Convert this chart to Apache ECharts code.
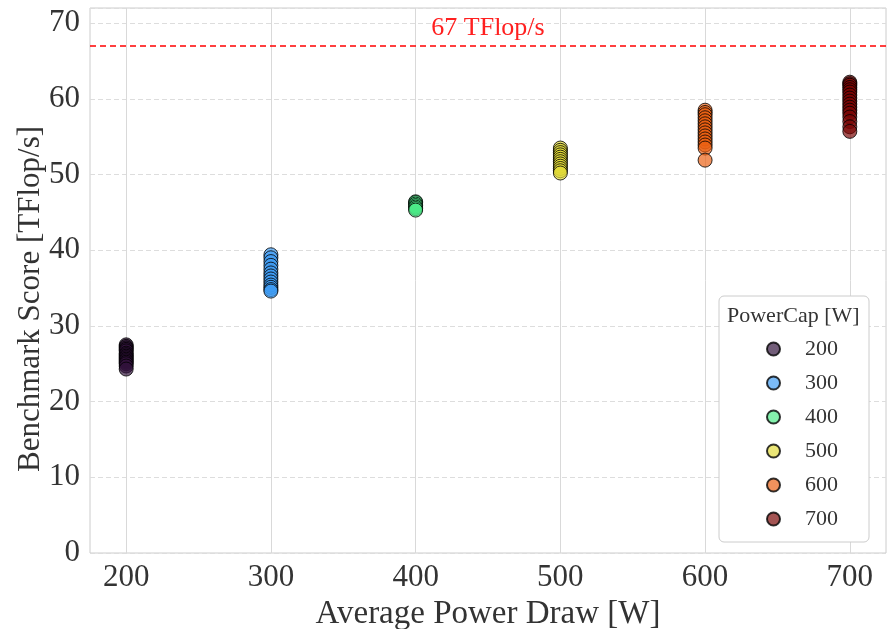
<!DOCTYPE html>
<html>
<head>
<meta charset="utf-8">
<script src="https://cdn.jsdelivr.net/npm/echarts@6/dist/echarts.min.js"></script>
<style>html,body{margin:0;padding:0;background:#fff}#c{width:887px;height:629px}</style>
</head>
<body>
<div id="c"></div>
<script>
const caps = ['200','300','400','500','600','700'];
const xTicks = [200,300,400,500,600,700];
const refValue = 67;
const refLabel = '67 TFlop/s';
const yTitle = 'Benchmark Score [TFlop/s]';
const xTitle = 'Average Power Draw [W]';
const vals200 = [27.5,27.3,27.1,26.9,26.7,26.4,26.2,26.0,25.8,25.6,25.4,25.2,25.0,24.7,24.3];
const vals300 = [39.4,39.0,38.5,38.0,37.5,37.0,36.6,36.2,35.8,35.4,35.1,34.8,34.6];
const vals400 = [46.4,46.3,46.1,45.9,45.7,45.5,45.3];
const vals500 = [53.5,53.2,52.9,52.6,52.3,52.0,51.7,51.4,51.1,50.8,50.5,50.2];
const vals600 = [58.5,58.2,57.9,57.5,57.1,56.7,56.3,55.9,55.5,55.1,54.7,54.3,53.9,53.5,51.9];
const vals700 = [62.2,62.0,61.8,61.5,61.2,60.9,60.5,60.1,59.7,59.3,58.9,58.5,58.1,57.6,57.0,56.3,55.7];
const groups = [vals200, vals300, vals400, vals500, vals600, vals700];
const colors = ['rgba(48,18,59,0.85)','rgba(61,156,243,0.85)','rgba(75,235,135,0.85)','rgba(226,219,55,0.85)','rgba(235,95,18,0.85)','rgba(122,4,3,0.85)'];

const FONT = '"Liberation Serif", "DejaVu Serif", serif';
const series = caps.map((c, i) => ({
  name: c,
  type: 'scatter',
  symbol: 'circle',
  symbolSize: 14,
  data: groups[i].map(v => [Number(c), v]),
  itemStyle: { color: colors[i], borderColor: '#000', borderWidth: 1 },
  emphasis: { disabled: true },
  z: 3
}));
series.push({
  name: 'ref',
  type: 'line',
  data: [],
  markLine: {
    silent: true,
    symbol: ['none','none'],
    lineStyle: { color: '#ff0000', type: [6,4], width: 1.6 },
    label: { show: true, position: 'insideMiddleTop', formatter: refLabel, color: '#ff2020', fontFamily: FONT, fontSize: 26, distance: 5 },
    data: [{ yAxis: refValue }]
  }
});

const chart = echarts.init(document.getElementById('c'), null, { renderer: 'canvas' });
chart.setOption({
  animation: false,
  backgroundColor: '#fff',
  grid: { left: 90, right: 1, top: 8, bottom: 76, outerBoundsMode: 'none', containLabel: false, show: true, borderColor: '#cccccc', borderWidth: 1, backgroundColor: 'transparent' },
  xAxis: {
    type: 'value', min: 175, max: 725,
    name: xTitle, nameLocation: 'middle', nameGap: 42,
    nameTextStyle: { fontFamily: FONT, fontSize: 33, color: '#333' },
    axisLine: { show: false }, axisTick: { show: false, customValues: xTicks },
    axisLabel: { customValues: xTicks, fontFamily: FONT, fontSize: 31, color: '#333', margin: 9 },
    splitLine: { show: true, lineStyle: { color: '#d9d9d9', width: 1 } }
  },
  yAxis: {
    type: 'value', min: 0, max: 72, interval: 10,
    axisLine: { show: false }, axisTick: { show: false },
    axisLabel: { fontFamily: FONT, fontSize: 31, color: '#333', margin: 10, showMaxLabel: false },
    splitLine: { show: true, lineStyle: { color: '#dddddd', type: [5,3], width: 1 } }
  },
  legend: {
    data: caps, orient: 'vertical', left: 719, top: 296,
    padding: [42, 31, 12, 47], itemGap: 12, itemWidth: 13, itemHeight: 13,
    icon: 'circle',
    backgroundColor: '#fff', borderColor: '#cccccc', borderWidth: 1, borderRadius: 5,
    textStyle: { fontFamily: FONT, fontSize: 22, color: '#333', padding: [0,0,0,20], lineHeight: 22 },
    selectedMode: false
  },
  graphic: [{
    type: 'text', left: 727, top: 305, z: 100,
    style: { text: 'PowerCap [W]', fontFamily: FONT, fontSize: 22, fill: '#333' }
  }, {
    type: 'text', x: 31, y: 299, rotation: Math.PI / 2, z: 100,
    style: { text: yTitle, fontFamily: FONT, fontSize: 31, fill: '#333', align: 'center', verticalAlign: 'middle' }
  }],
  series: series
});
</script>
</body>
</html>
